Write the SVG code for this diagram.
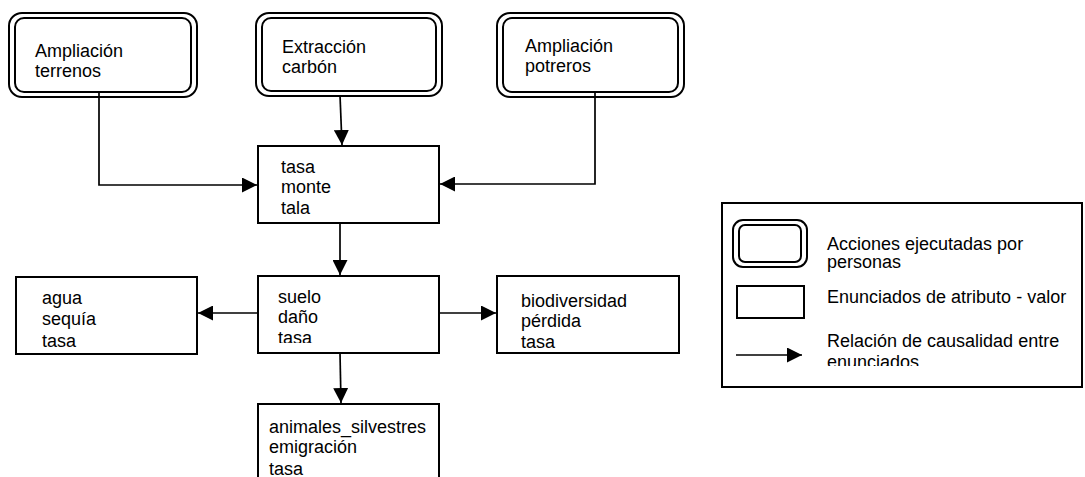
<svg xmlns="http://www.w3.org/2000/svg" width="1085" height="477" viewBox="0 0 1085 477">
<style>
text{font-family:"Liberation Sans",Arial,sans-serif;font-size:18px;fill:#000}
.box{fill:#fff;stroke:#000;stroke-width:2}
.dbl{fill:none;stroke:#000;stroke-width:2}
.con{fill:none;stroke:#000;stroke-width:1.7}
</style>
<defs>
<marker id="arr" markerUnits="userSpaceOnUse" markerWidth="16" markerHeight="15" refX="15" refY="7.5" orient="auto">
<path d="M0,0 L15,7.5 L0,15 z" fill="#000"/>
</marker>
<clipPath id="clipSuelo"><rect x="258" y="276" width="181" height="67"/></clipPath>
<clipPath id="clipLeg"><rect x="720" y="200" width="365" height="166"/></clipPath>
</defs>
<rect width="1085" height="477" fill="#fff"/>
<g id="connectors">
<polyline class="con" points="99,93 99,185 257,185" marker-end="url(#arr)"/>
<line class="con" x1="340" y1="95" x2="342" y2="145" marker-end="url(#arr)"/>
<polyline class="con" points="589,92 595,92 595,184 440,184" marker-end="url(#arr)"/>
<line class="con" x1="340" y1="223" x2="340" y2="275" marker-end="url(#arr)"/>
<line class="con" x1="258" y1="313" x2="198" y2="313" marker-end="url(#arr)"/>
<line class="con" x1="439" y1="313" x2="496" y2="313" marker-end="url(#arr)"/>
<line class="con" x1="340" y1="353" x2="341" y2="403" marker-end="url(#arr)"/>
</g>
<g id="n-ampliacion-terrenos">
<rect class="dbl" x="9" y="13" width="188" height="84" rx="13"/>
<rect class="dbl" x="15" y="18" width="176" height="74" rx="9"/>
<text x="35" y="57">Ampliación</text>
<text x="35" y="77">terrenos</text>
</g>
<g id="n-extraccion-carbon">
<rect class="dbl" x="256" y="13" width="186" height="83" rx="13"/>
<rect class="dbl" x="262" y="18" width="174" height="73" rx="9"/>
<text x="282" y="53">Extracción</text>
<text x="282" y="73">carbón</text>
</g>
<g id="n-ampliacion-potreros">
<rect class="dbl" x="497" y="13" width="187" height="84" rx="13"/>
<rect class="dbl" x="503" y="18" width="175" height="74" rx="9"/>
<text x="525" y="52">Ampliación</text>
<text x="525" y="72">potreros</text>
</g>
<g id="n-tasa-monte-tala">
<rect class="box" x="258" y="146" width="181" height="77"/>
<text x="281" y="173">tasa</text>
<text x="281" y="193">monte</text>
<text x="281" y="214">tala</text>
</g>
<g id="n-suelo">
<rect class="box" x="258" y="276" width="181" height="77"/>
<g clip-path="url(#clipSuelo)">
<text x="278" y="303">suelo</text>
<text x="278" y="323">daño</text>
<text x="278" y="344">tasa</text>
</g>
</g>
<g id="n-agua">
<rect class="box" x="16" y="277" width="181" height="77"/>
<text x="42" y="304">agua</text>
<text x="42" y="325">sequía</text>
<text x="42" y="347">tasa</text>
</g>
<g id="n-biodiversidad">
<rect class="box" x="497" y="276" width="182" height="77"/>
<text x="521" y="307">biodiversidad</text>
<text x="521" y="327">pérdida</text>
<text x="521" y="348">tasa</text>
</g>
<g id="n-animales">
<rect class="box" x="258" y="404" width="181" height="80"/>
<text x="269" y="433">animales_silvestres</text>
<text x="269" y="453">emigración</text>
<text x="269" y="475">tasa</text>
</g>
<g id="legend">
<rect class="box" x="722" y="203" width="360" height="184"/>
<rect class="dbl" x="733" y="220" width="74" height="47" rx="10"/>
<rect class="dbl" x="739" y="225" width="62" height="37" rx="6"/>
<rect class="box" x="737" y="286" width="67" height="32"/>
<line class="con" x1="736" y1="355" x2="802" y2="355" marker-end="url(#arr)"/>
<g clip-path="url(#clipLeg)">
<text x="827" y="250">Acciones ejecutadas por</text>
<text x="827" y="268">personas</text>
<text x="827" y="303">Enunciados de atributo - valor</text>
<text x="827" y="347">Relación de causalidad entre</text>
<text x="827" y="368">enunciados</text>
</g>
</g>
</svg>
